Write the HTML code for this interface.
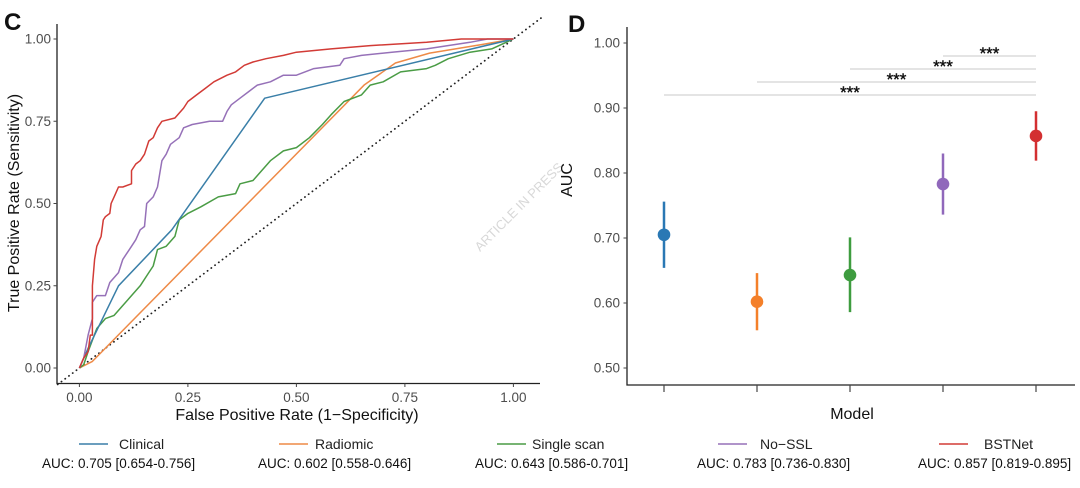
<!DOCTYPE html>
<html><head><meta charset="utf-8"><style>
body{margin:0;background:#fff;}
svg{display:block;font-family:"Liberation Sans",Arial,sans-serif;}
</style></head><body>
<svg id="fig" width="1080" height="488" viewBox="0 0 1080 488" xmlns="http://www.w3.org/2000/svg"></svg>
<script>
// ROC data (fpr, tpr)
const clinicalFpr=[0,0.02,0.09,0.213,0.427,1];
const clinicalTpr=[0,0.06,0.25,0.42,0.82,1];
const radiomicFpr=[0,0.03,0.657,0.728,0.807,0.926,1];
const radiomicTpr=[0,0.02,0.861,0.927,0.957,0.983,1];
const singleFpr=[0,0.01,0.02,0.04,0.06,0.08,0.1,0.12,0.14,0.16,0.17,0.18,0.2,0.22,0.23,0.25,0.28,0.32,0.36,0.37,0.4,0.42,0.44,0.47,0.5,0.53,0.56,0.58,0.61,0.65,0.67,0.7,0.74,0.8,0.82,0.85,0.9,0.95,1];
const singleTpr=[0,0.01,0.05,0.12,0.15,0.16,0.19,0.22,0.25,0.29,0.31,0.36,0.37,0.4,0.45,0.47,0.49,0.52,0.53,0.56,0.57,0.6,0.63,0.66,0.67,0.7,0.74,0.77,0.81,0.83,0.86,0.87,0.9,0.91,0.92,0.94,0.96,0.97,1];
const nosslFpr=[0,0.01,0.02,0.03,0.03,0.04,0.06,0.07,0.09,0.1,0.11,0.12,0.13,0.14,0.15,0.155,0.17,0.18,0.19,0.2,0.21,0.23,0.24,0.26,0.3,0.33,0.34,0.35,0.37,0.39,0.41,0.44,0.47,0.5,0.54,0.6,0.61,0.65,0.72,0.8,0.9,0.94,1];
const nosslTpr=[0,0.03,0.1,0.15,0.2,0.22,0.22,0.26,0.29,0.33,0.35,0.37,0.39,0.42,0.43,0.5,0.52,0.55,0.63,0.65,0.68,0.7,0.73,0.74,0.75,0.75,0.78,0.8,0.82,0.84,0.86,0.87,0.89,0.89,0.91,0.92,0.94,0.95,0.96,0.97,0.99,1,1];
const bstFpr=[0,0.01,0.02,0.025,0.03,0.03,0.035,0.04,0.05,0.055,0.06,0.07,0.073,0.08,0.09,0.1,0.12,0.12,0.13,0.14,0.15,0.16,0.17,0.18,0.19,0.22,0.24,0.25,0.27,0.29,0.31,0.34,0.36,0.38,0.4,0.43,0.47,0.5,0.58,0.67,0.8,0.88,1];
const bstTpr=[0,0.03,0.05,0.1,0.1,0.25,0.33,0.37,0.4,0.45,0.46,0.47,0.5,0.52,0.55,0.55,0.56,0.6,0.62,0.63,0.65,0.69,0.7,0.73,0.75,0.76,0.79,0.81,0.83,0.85,0.87,0.89,0.9,0.92,0.93,0.94,0.95,0.96,0.97,0.98,0.99,1,1];
const rocTicks=[0,0.25,0.5,0.75,1];
const rocTickLabels=["0.00","0.25","0.50","0.75","1.00"];
// AUC data
const models=["Clinical","Radiomic","Single scan","No-SSL","BSTNet"];
const aucVals=[0.705,0.602,0.643,0.783,0.857];
const aucLo=[0.654,0.558,0.586,0.736,0.819];
const aucHi=[0.756,0.646,0.701,0.830,0.895];
const aucTicks=[0.5,0.6,0.7,0.8,0.9,1.0];
const aucTickLabels=["0.50","0.60","0.70","0.80","0.90","1.00"];
const sigFrom=[0,1,2,3];
const sigY=[0.92,0.94,0.96,0.98];
const sigLabels=["***","***","***","***"];
const lineColors=["#3a7fa8","#ee8a47","#4a9c45","#9671b8","#d23b36"];
const dotColors=["#2a78b4","#f4802a","#3e9c3f","#9068bb","#d32f31"];

const NS="http://www.w3.org/2000/svg";
const svg=document.getElementById('fig');
function mk(tag,attrs,parent,text){const e=document.createElementNS(NS,tag);for(const k in attrs)e.setAttribute(k,attrs[k]);if(text!==undefined)e.textContent=text;(parent||svg).appendChild(e);return e;}

const rx=v=>79.4+v*434;
const ry=v=>368-v*329;
let t=mk('text',{x:4,y:30,'font-size':24,'font-weight':'bold',fill:'#111'},svg,'C');


let d=mk('line',{x1:rx(-0.05),y1:ry(-0.05),x2:rx(1.07),y2:ry(1.07),stroke:'#222','stroke-width':1.8,'stroke-dasharray':'0.1 4.6','stroke-linecap':'round'});


const rocSets=[[clinicalFpr,clinicalTpr],[radiomicFpr,radiomicTpr],[singleFpr,singleTpr],[nosslFpr,nosslTpr],[bstFpr,bstTpr]];
const drawOrder=[1,2,0,3,4];
drawOrder.forEach(i=>{
  const [fx,ty]=rocSets[i];
  const pts=fx.map((f,k)=>rx(f).toFixed(1)+','+ry(ty[k]).toFixed(1)).join(' ');
  const p=mk('polyline',{points:pts,fill:'none',stroke:lineColors[i],'stroke-width':1.5,'stroke-linejoin':'round'});
  
  
});
let ax=mk('path',{d:`M57,24 V383.5 H540`,fill:'none',stroke:'#222','stroke-width':1.3});


rocTicks.forEach((v,i)=>{
  mk('line',{x1:rx(v),x2:rx(v),y1:383.5,y2:387,stroke:'#444','stroke-width':1});
  let l=mk('text',{x:rx(v),y:402,'font-size':13.5,fill:'#4d4d4d','text-anchor':'middle'},svg,rocTickLabels[i]);
  
  
  mk('line',{x1:53.5,x2:57,y1:ry(v),y2:ry(v),stroke:'#444','stroke-width':1});
  let l2=mk('text',{x:51,y:ry(v)+4.5,'font-size':13.5,fill:'#4d4d4d','text-anchor':'end'},svg,rocTickLabels[i]);
  
  
});
t=mk('text',{x:297,y:420,'font-size':16,fill:'#111','text-anchor':'middle'},svg,'False Positive Rate (1\u2212Specificity)');


t=mk('text',{x:0,y:0,'font-size':16,fill:'#111','text-anchor':'middle',transform:'translate(19,203) rotate(-90)'},svg,'True Positive Rate (Sensitivity)');


t=mk('text',{x:0,y:0,'font-size':13,fill:'#d8d8d8','text-anchor':'middle',transform:'translate(522,210) rotate(-45)'},svg,'ARTICLE IN PRESS');



const mxs=[664,757,850,943,1036];
const ay=v=>43+(1-v)*650;
t=mk('text',{x:568,y:32,'font-size':24,'font-weight':'bold',fill:'#111'},svg,'D');


ax=mk('path',{d:`M627,27 V385 H1075`,fill:'none',stroke:'#222','stroke-width':1.3});


aucTicks.forEach((v,i)=>{
  mk('line',{x1:623.5,x2:627,y1:ay(v),y2:ay(v),stroke:'#444','stroke-width':1});
  let l=mk('text',{x:620,y:ay(v)+4.5,'font-size':13.5,fill:'#4d4d4d','text-anchor':'end'},svg,aucTickLabels[i]);
  
  
});
mxs.forEach(x=>mk('line',{x1:x,x2:x,y1:385,y2:392,stroke:'#444','stroke-width':1.2}));
t=mk('text',{x:852,y:419,'font-size':16,fill:'#111','text-anchor':'middle'},svg,'Model');


t=mk('text',{x:0,y:0,'font-size':16,fill:'#111','text-anchor':'middle',transform:'translate(572,180) rotate(-90)'},svg,'AUC');


sigFrom.forEach((f,i)=>{
  let l=mk('line',{x1:mxs[f],x2:mxs[4],y1:ay(sigY[i]),y2:ay(sigY[i]),stroke:'#c8c8c8','stroke-width':1});
  
  
  let s=mk('text',{x:(mxs[f]+mxs[4])/2,y:ay(sigY[i])+3,'font-size':17,fill:'#111',stroke:'#111','stroke-width':0.4,'text-anchor':'middle'},svg,sigLabels[i]);
  
  
});
aucVals.forEach((v,i)=>{
  let e=mk('line',{x1:mxs[i],x2:mxs[i],y1:ay(aucLo[i]),y2:ay(aucHi[i]),stroke:dotColors[i],'stroke-width':2.5});
  
  
  let c=mk('circle',{cx:mxs[i],cy:ay(v),r:6.3,fill:dotColors[i]});
  
  
});

const legLineX=[79,279,497,718,939];
const legTextX=[119,315,532,760,984];
const aucTextX=[42,258,475,697,918];
const aucText=["AUC: 0.705 [0.654-0.756]","AUC: 0.602 [0.558-0.646]","AUC: 0.643 [0.586-0.701]","AUC: 0.783 [0.736-0.830]","AUC:  0.857 [0.819-0.895]"];
const legLabels=["Clinical","Radiomic","Single scan","No\u2212SSL","BSTNet"];
models.forEach((m,i)=>{
  const g=mk('g',{});
  
  
  mk('line',{x1:legLineX[i],x2:legLineX[i]+29,y1:444,y2:444,stroke:lineColors[i],'stroke-width':1.5},g);
  mk('text',{x:legTextX[i],y:449,'font-size':14,fill:'#222'},g,legLabels[i]);
  let a=mk('text',{x:aucTextX[i],y:468,'font-size':13.5,fill:'#111'},svg,aucText[i]);
  
  
});
</script>
</body></html>
